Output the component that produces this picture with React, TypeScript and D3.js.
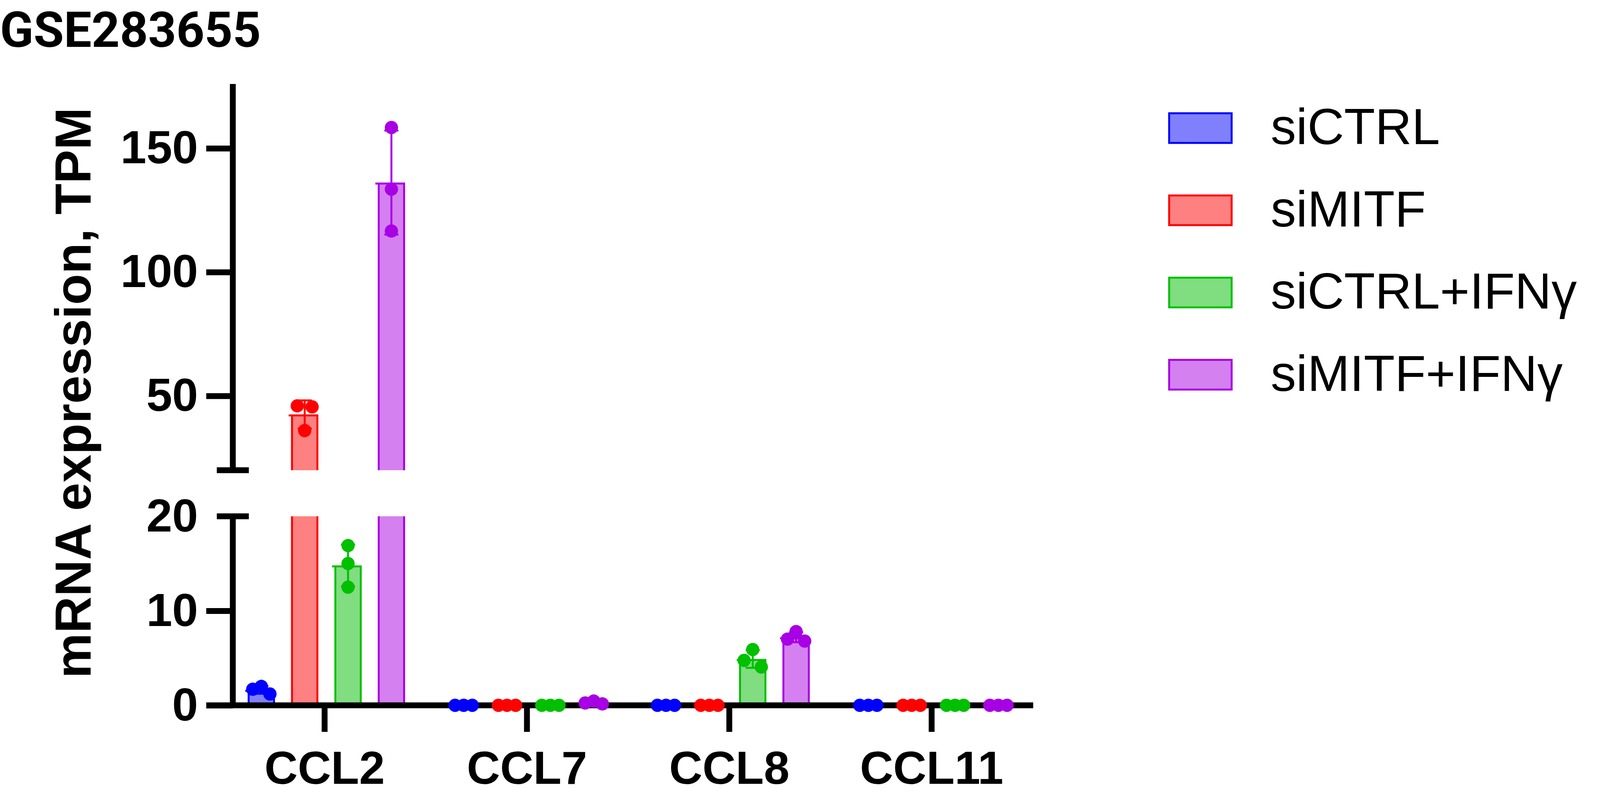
import React, { useEffect, useRef } from 'react';
import * as d3 from 'd3';

// ---------- data ----------
const categories = ['CCL2', 'CCL7', 'CCL8', 'CCL11'];
const groups = ['siCTRL', 'siMITF', 'siCTRL+IFNγ', 'siMITF+IFNγ'];
// replicate values (TPM), one array per category
const siCTRL = [[1.2, 2.0, 1.7], [0, 0, 0], [0, 0, 0], [0, 0, 0]];
const siMITF = [[46.0, 45.6, 36.0], [0, 0, 0], [0, 0, 0], [0, 0, 0]];
const siCTRL_IFNg = [[16.9, 15.0, 12.5], [0, 0, 0], [5.9, 4.75, 4.05], [0, 0, 0]];
const siMITF_IFNg = [[158.4, 133.5, 116.6], [0.15, 0.45, 0.25], [7.8, 7.0, 6.8], [0, 0, 0]];
const seriesValues = [siCTRL, siMITF, siCTRL_IFNg, siMITF_IFNg];
const upperTicks = [50, 100, 150];
const lowerTicks = [10];
const strokeColors = ['#0000FF', '#FF0000', '#00C000', '#A800E4'];
const fillColors = ['#8080FF', '#FF8080', '#80DD80', '#D580F0'];
const title = 'GSE283655';
const yTitle = 'mRNA expression, TPM';

const W = 4156;
const H = 2051;
const TITLE_FONT = 'Roboto, "Liberation Sans", Arial, sans-serif';
const FONT = '"Liberation Sans", Arial, Helvetica, sans-serif';

// ---------- layout ----------
const AX = 596; // y-axis x
const X_AXIS_Y = 1806;
const BREAK = 20;
const yLow = d3.scaleLinear().domain([0, BREAK]).range([1806, 1322]);
const yHigh = d3.scaleLinear().domain([BREAK, 176]).range([1204, 215]);
const yVal = (v: number) => (v <= BREAK ? yLow(v) : yHigh(v));
const xCat = d3.scaleBand<string>().domain(categories).range([572, 2644]).padding(0);
const xGrp = d3.scalePoint<string>().domain(groups).range([-162, 171]);
const BAR_W = 70;
const BAR_SW = 5;
const R = 17;

function offsetsFor(vals: number[]) {
  // cluster nearby points (pixel space) and spread them horizontally
  const idx = vals.map((v, i) => i).sort((a, b) => vals[b] - vals[a]);
  const py = vals.map(yVal);
  const res = new Array(vals.length).fill(0);
  const clusters: number[][] = [];
  idx.forEach((i) => {
    const last = clusters[clusters.length - 1];
    if (last && Math.abs(py[last[last.length - 1]] - py[i]) < 2 * R) last.push(i);
    else clusters.push([i]);
  });
  clusters.forEach((c) => {
    if (c.length === 2) {
      res[c[0]] = -19;
      res[c[1]] = 19;
    } else if (c.length >= 3) {
      const pat = [0, -22, 22, -44, 44];
      c.forEach((i, k) => (res[i] = pat[k] ?? 0));
    }
  });
  return res;
}

export default function App() {
  const xAxisRef = useRef<SVGGElement>(null);
  const yUpRef = useRef<SVGGElement>(null);
  const yLowRef = useRef<SVGGElement>(null);

  useEffect(() => {
    document.body.style.margin = '0';
    document.body.style.overflow = 'hidden';
    const styleAxis = (g: d3.Selection<SVGGElement, unknown, null, undefined>, fs: number, fw: number) => {
      g.select('.domain').remove();
      g.selectAll('.tick line').attr('stroke', '#000').attr('stroke-width', 15);
      g.selectAll('.tick text')
        .attr('fill', '#000')
        .style('font-family', FONT)
        .style('font-size', fs + 'px')
        .style('font-weight', fw);
    };
    const gu = d3.select(yUpRef.current!);
    gu.selectAll('*').remove();
    gu.call(d3.axisLeft(yHigh).tickValues(upperTicks).tickSize(68).tickPadding(21).tickFormat(d3.format('d')) as any);
    styleAxis(gu, 119, 700);
    const gl = d3.select(yLowRef.current!);
    gl.selectAll('*').remove();
    gl.call(d3.axisLeft(yLow).tickValues([0, ...lowerTicks, 20]).tickSize(68).tickPadding(21).tickFormat(d3.format('d')) as any);
    styleAxis(gl, 119, 700);
    // the tick at 20 is drawn as the break cap, not a long tick
    gl.selectAll<SVGGElement, number>('.tick').filter((d) => d === 20).select('line').remove();
    const gx = d3.select(xAxisRef.current!);
    gx.selectAll('*').remove();
    gx.call(d3.axisBottom(xCat).tickSize(68).tickPadding(49) as any);
    styleAxis(gx, 118, 700);
  }, []);

  const bars: React.ReactNode[] = [];
  const errs: React.ReactNode[] = [];
  const pts: React.ReactNode[] = [];

  groups.forEach((g, gi) => {
    categories.forEach((c, ci) => {
      const vals = seriesValues[gi][ci];
      const mean = d3.mean(vals)!;
      const sd = d3.deviation(vals) ?? 0;
      const cx = xCat(c)! + xCat.bandwidth() / 2 + xGrp(g)!;
      const x0 = cx - BAR_W / 2;
      const x1 = cx + BAR_W / 2;
      const sc = strokeColors[gi];
      const fc = fillColors[gi];
      const inset = BAR_SW / 2;
      // lower segment
      const topLow = yLow(Math.min(mean, BREAK));
      if (mean > 0) {
        bars.push(
          <rect key={`bl-${gi}-${ci}`} x={x0} y={topLow} width={BAR_W} height={X_AXIS_Y - topLow} fill={fc} />
        );
        let d = `M${x0 + inset},${X_AXIS_Y} V${topLow} M${x1 - inset},${X_AXIS_Y} V${topLow}`;
        if (mean <= BREAK) d += ` M${x0 - 6},${topLow + inset} H${x1}`;
        bars.push(<path key={`bls-${gi}-${ci}`} d={d} stroke={sc} strokeWidth={BAR_SW} fill="none" />);
      }
      if (mean > BREAK) {
        const top = yHigh(mean);
        const bot = yHigh(BREAK);
        bars.push(<rect key={`bu-${gi}-${ci}`} x={x0} y={top} width={BAR_W} height={bot - top} fill={fc} />);
        const d = `M${x0 + inset},${bot} V${top} M${x1 - inset},${bot} V${top} M${x0 - 6},${top + inset} H${x1}`;
        bars.push(<path key={`bus-${gi}-${ci}`} d={d} stroke={sc} strokeWidth={BAR_SW} fill="none" />);
      }
      // error bars (mean ± SD)
      if (sd > 0) {
        const yt = yVal(mean + sd);
        const yb = yVal(Math.max(0, mean - sd));
        errs.push(
          <path
            key={`e-${gi}-${ci}`}
            d={`M${cx},${yt} V${yb} M${cx - 18},${yt} H${cx + 18} M${cx - 18},${yb} H${cx + 18}`}
            stroke={sc}
            strokeWidth={5}
            fill="none"
          />
        );
      }
      const offs = offsetsFor(vals);
      vals.forEach((v, k) => {
        pts.push(<circle key={`p-${gi}-${ci}-${k}`} cx={cx + offs[k]} cy={yVal(v)} r={R} fill={sc} />);
      });
    });
  });

  const capL = AX - 41;
  const capR = AX + 41;

  return (
    <svg width={W} height={H} style={{ position: 'absolute', left: 0, top: 0, background: '#fff' }}>
      <rect x={0} y={0} width={W} height={H} fill="#fff" />
      <text x={0} y={120} fontFamily={TITLE_FONT} fontWeight={700} fontSize={126} fill="#000">
        {title}
      </text>
      <text
        transform={`translate(232,1006) rotate(-90)`}
        textAnchor="middle"
        fontFamily={FONT}
        fontWeight={700}
        fontSize={130}
        fill="#000"
      >
        {yTitle}
      </text>

      {bars}

      {/* axis lines */}
      <g stroke="#000" strokeWidth={15} fill="none">
        <path d={`M${AX},${yHigh(176)} V${yHigh(BREAK)}`} />
        <path d={`M${capL},${yHigh(BREAK)} H${capR}`} />
        <path d={`M${AX},${yLow(BREAK)} V${X_AXIS_Y}`} />
        <path d={`M${capL},${yLow(BREAK)} H${capR}`} />
        <path d={`M528,${X_AXIS_Y} H2645`} />
      </g>
      <g ref={yUpRef} transform={`translate(${AX},0)`} />
      <g ref={yLowRef} transform={`translate(${AX},0)`} />
      <g ref={xAxisRef} transform={`translate(0,${X_AXIS_Y})`} />

      {errs}
      {pts}

      {/* legend */}
      {groups.map((g, i) => {
        const y0 = 288 + i * 210.5;
        return (
          <g key={`lg-${i}`}>
            <rect x={2993} y={y0 + 2} width={160} height={76} fill={fillColors[i]} stroke={strokeColors[i]} strokeWidth={5} />
            <text x={3253} y={y0 + 81} fontFamily={FONT} fontWeight={400} fontSize={130} fill="#000">
              {g}
            </text>
          </g>
        );
      })}
    </svg>
  );
}
